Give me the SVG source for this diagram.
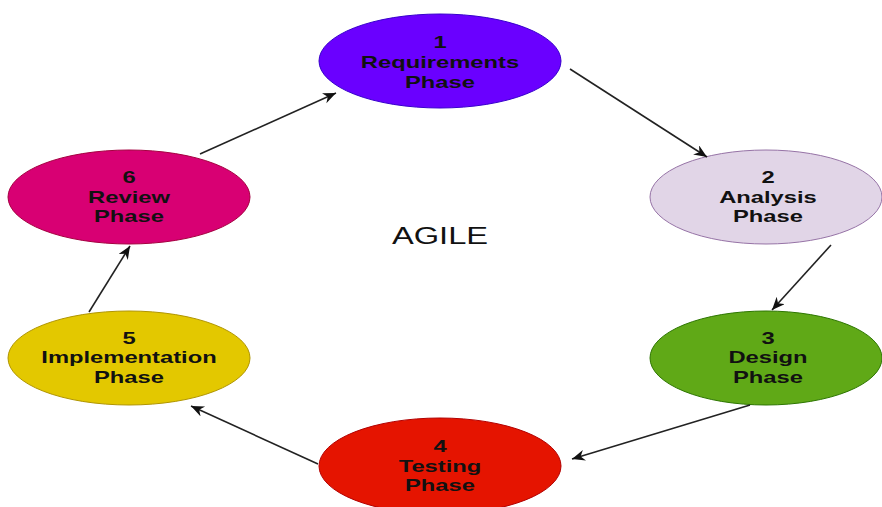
<svg xmlns="http://www.w3.org/2000/svg" width="882" height="507" viewBox="0 0 882 507">
  <style>
    .label { font-family: "Liberation Sans", Arial, sans-serif; font-weight: bold; font-size: 16.5px; fill: #111; text-anchor: middle; }
    .title { font-family: "Liberation Sans", Arial, sans-serif; font-size: 23px; fill: #111; text-anchor: middle; }
    .edge { fill: none; stroke: #222; stroke-width: 1.6; marker-end: url(#arrow); }
  </style>
  <defs>
    <marker id="arrow" markerUnits="userSpaceOnUse" markerWidth="15" markerHeight="12" refX="13" refY="5.5" orient="auto">
      <path d="M0,0 L13,5.5 L0,11 L4,5.5 Z" fill="#111"/>
    </marker>
  </defs>
  <rect width="882" height="507" fill="#fff"/>

  <!-- phase nodes -->
  <g id="node-requirements">
    <ellipse cx="440" cy="61" rx="121" ry="47" fill="#6a00ff" stroke="#3700cc"/>
    <g transform="translate(440,0) scale(1.44,1)">
      <text class="label" x="0" y="48">1</text>
      <text class="label" x="0" y="68">Requirements</text>
      <text class="label" x="0" y="88">Phase</text>
    </g>
  </g>

  <g id="node-analysis">
    <ellipse cx="766" cy="197" rx="116" ry="47" fill="#e1d5e7" stroke="#9673a6"/>
    <g transform="translate(768,0) scale(1.44,1)">
      <text class="label" x="0" y="183">2</text>
      <text class="label" x="0" y="203">Analysis</text>
      <text class="label" x="0" y="222">Phase</text>
    </g>
  </g>

  <g id="node-design">
    <ellipse cx="766" cy="358" rx="116" ry="47" fill="#60a917" stroke="#2d7600"/>
    <g transform="translate(768,0) scale(1.44,1)">
      <text class="label" x="0" y="344">3</text>
      <text class="label" x="0" y="363">Design</text>
      <text class="label" x="0" y="383">Phase</text>
    </g>
  </g>

  <g id="node-testing">
    <ellipse cx="440" cy="466" rx="121" ry="48" fill="#e51400" stroke="#b20000"/>
    <g transform="translate(440,0) scale(1.44,1)">
      <text class="label" x="0" y="452">4</text>
      <text class="label" x="0" y="472">Testing</text>
      <text class="label" x="0" y="491">Phase</text>
    </g>
  </g>

  <g id="node-implementation">
    <ellipse cx="129" cy="358" rx="121" ry="47" fill="#e3c800" stroke="#b09500"/>
    <g transform="translate(129,0) scale(1.44,1)">
      <text class="label" x="0" y="344">5</text>
      <text class="label" x="0" y="363">Implementation</text>
      <text class="label" x="0" y="383">Phase</text>
    </g>
  </g>

  <g id="node-review">
    <ellipse cx="129" cy="197" rx="121" ry="47" fill="#d80073" stroke="#a50040"/>
    <g transform="translate(129,0) scale(1.44,1)">
      <text class="label" x="0" y="183">6</text>
      <text class="label" x="0" y="203">Review</text>
      <text class="label" x="0" y="222">Phase</text>
    </g>
  </g>

  <!-- centre title -->
  <g id="title">
    <text class="title" transform="translate(440,0) scale(1.42,1)" x="0" y="244">AGILE</text>
  </g>

  <!-- cycle connectors -->
  <g id="connectors">
    <line class="edge" x1="570" y1="69" x2="707" y2="157"/>
    <line class="edge" x1="831" y1="245" x2="772" y2="310"/>
    <line class="edge" x1="750" y1="405" x2="572" y2="459"/>
    <line class="edge" x1="318" y1="464" x2="191" y2="406"/>
    <line class="edge" x1="89" y1="312" x2="130" y2="246"/>
    <line class="edge" x1="200" y1="154" x2="336" y2="93"/>
  </g>
</svg>
